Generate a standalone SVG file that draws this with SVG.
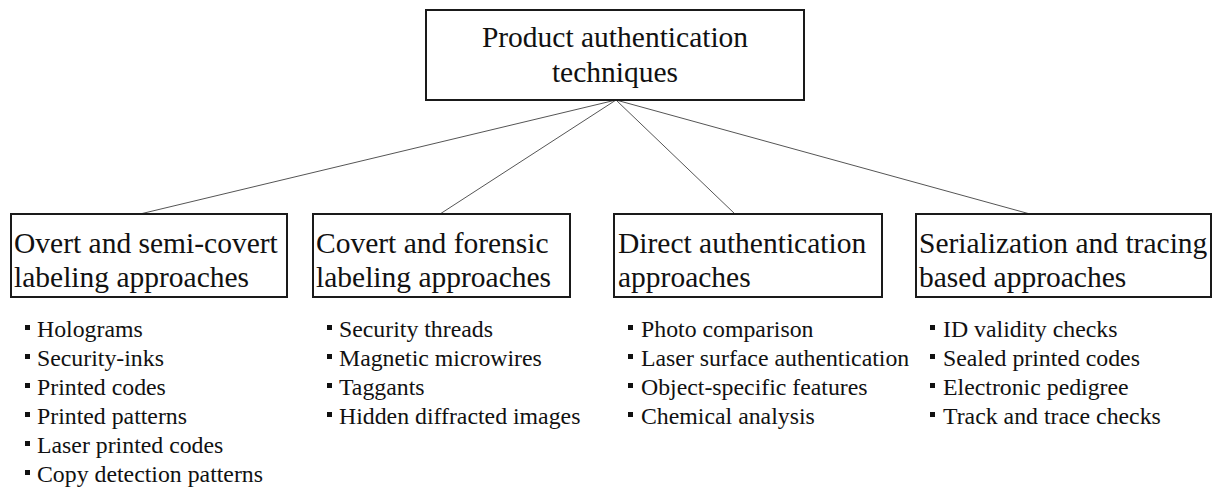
<svg xmlns="http://www.w3.org/2000/svg" width="1216" height="492" viewBox="0 0 1216 492">
  <style>
    .box { fill: #ffffff; stroke: #1a1a1a; stroke-width: 2; }
    .head { font-family: "Liberation Serif", "Times New Roman", serif; font-size: 29.5px; fill: #111111; }
    .item { font-family: "Liberation Serif", "Times New Roman", serif; font-size: 23.8px; fill: #111111; }
    .link { stroke: #555555; stroke-width: 1; fill: none; }
    .dot { fill: #111111; }
  </style>
  <defs>
    <rect id="bullet" class="dot" x="0" y="-12" width="5" height="5"/>
  </defs>
  <rect width="1216" height="492" fill="#ffffff"/>

  <!-- tree connectors -->
  <g id="connectors">
    <line class="link" x1="616" y1="100" x2="140" y2="214"/>
    <line class="link" x1="616" y1="100" x2="440" y2="214"/>
    <line class="link" x1="616" y1="100" x2="735" y2="214"/>
    <line class="link" x1="616" y1="100" x2="1030" y2="214"/>
  </g>

  <!-- root -->
  <g id="root">
    <rect class="box" x="426" y="10" width="378" height="90"/>
    <text class="head" x="615" y="47" text-anchor="middle">Product authentication</text>
    <text class="head" x="615" y="82" text-anchor="middle">techniques</text>
  </g>

  <!-- category: overt -->
  <g id="overt">
    <rect class="box" x="11" y="214" width="276" height="83"/>
    <text class="head" x="14" y="253">Overt and semi-covert</text>
    <text class="head" x="14" y="287">labeling approaches</text>
    <g class="item">
      <use href="#bullet" x="25" y="337"/><text x="37" y="337">Holograms</text>
      <use href="#bullet" x="25" y="366"/><text x="37" y="366">Security-inks</text>
      <use href="#bullet" x="25" y="395"/><text x="37" y="395">Printed codes</text>
      <use href="#bullet" x="25" y="424"/><text x="37" y="424">Printed patterns</text>
      <use href="#bullet" x="25" y="453"/><text x="37" y="453">Laser printed codes</text>
      <use href="#bullet" x="25" y="482"/><text x="37" y="482">Copy detection patterns</text>
    </g>
  </g>

  <!-- category: covert -->
  <g id="covert">
    <rect class="box" x="313" y="214" width="257" height="83"/>
    <text class="head" x="316" y="253">Covert and forensic</text>
    <text class="head" x="316" y="287">labeling approaches</text>
    <g class="item">
      <use href="#bullet" x="327" y="337"/><text x="339" y="337">Security threads</text>
      <use href="#bullet" x="327" y="366"/><text x="339" y="366">Magnetic microwires</text>
      <use href="#bullet" x="327" y="395"/><text x="339" y="395">Taggants</text>
      <use href="#bullet" x="327" y="424"/><text x="339" y="424">Hidden diffracted images</text>
    </g>
  </g>

  <!-- category: direct -->
  <g id="direct">
    <rect class="box" x="614" y="214" width="268" height="83"/>
    <text class="head" x="618" y="253">Direct authentication</text>
    <text class="head" x="618" y="287">approaches</text>
    <g class="item">
      <use href="#bullet" x="628" y="337"/><text x="641" y="337">Photo comparison</text>
      <use href="#bullet" x="628" y="366"/><text x="641" y="366">Laser surface authentication</text>
      <use href="#bullet" x="628" y="395"/><text x="641" y="395">Object-specific features</text>
      <use href="#bullet" x="628" y="424"/><text x="641" y="424">Chemical analysis</text>
    </g>
  </g>

  <!-- category: serialization -->
  <g id="serialization">
    <rect class="box" x="916" y="214" width="295" height="83"/>
    <text class="head" x="919" y="253">Serialization and tracing</text>
    <text class="head" x="919" y="287">based approaches</text>
    <g class="item">
      <use href="#bullet" x="930" y="337"/><text x="943" y="337">ID validity checks</text>
      <use href="#bullet" x="930" y="366"/><text x="943" y="366">Sealed printed codes</text>
      <use href="#bullet" x="930" y="395"/><text x="943" y="395">Electronic pedigree</text>
      <use href="#bullet" x="930" y="424"/><text x="943" y="424">Track and trace checks</text>
    </g>
  </g>
</svg>
